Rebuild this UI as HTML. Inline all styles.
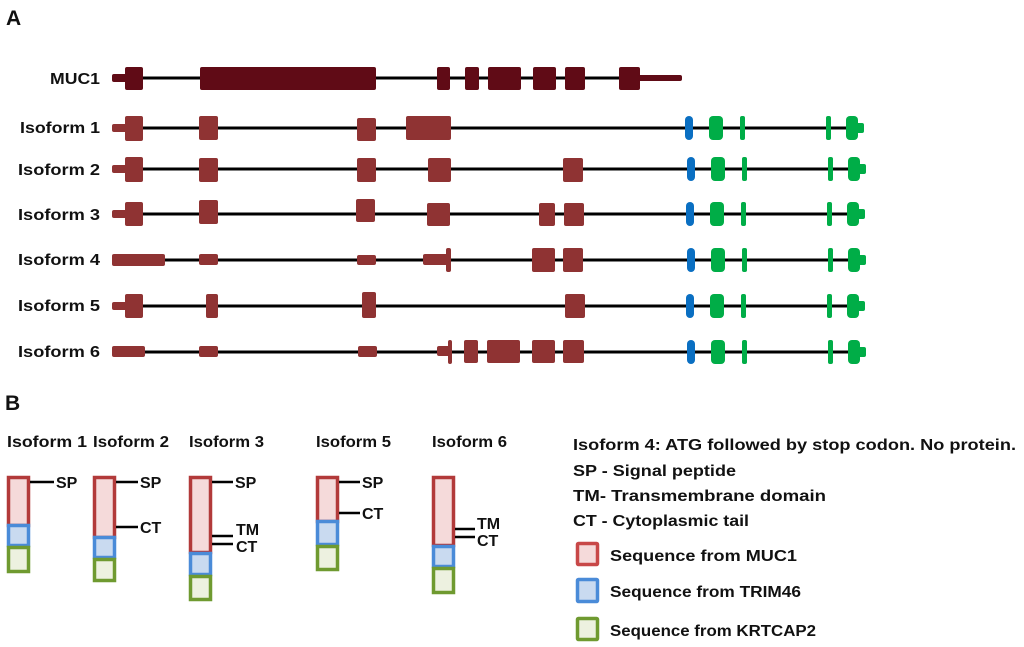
<!DOCTYPE html>
<html><head><meta charset="utf-8"><style>
html,body{margin:0;padding:0;background:#fff;}
svg{display:block;}
text{font-family:"Liberation Sans",sans-serif;font-weight:bold;fill:#111;}
</style></head><body>
<svg width="1024" height="647" viewBox="0 0 1024 647" xmlns="http://www.w3.org/2000/svg">
<text x="6" y="25" font-size="21">A</text>
<text x="5" y="410" font-size="21">B</text>

<g font-size="16" text-anchor="end">
<text x="100" y="84" textLength="50" lengthAdjust="spacingAndGlyphs">MUC1</text>
<text x="100" y="133" textLength="80" lengthAdjust="spacingAndGlyphs">Isoform 1</text>
<text x="100" y="175" textLength="82" lengthAdjust="spacingAndGlyphs">Isoform 2</text>
<text x="100" y="220" textLength="82" lengthAdjust="spacingAndGlyphs">Isoform 3</text>
<text x="100" y="265" textLength="82" lengthAdjust="spacingAndGlyphs">Isoform 4</text>
<text x="100" y="311" textLength="82" lengthAdjust="spacingAndGlyphs">Isoform 5</text>
<text x="100" y="357" textLength="82" lengthAdjust="spacingAndGlyphs">Isoform 6</text>
</g>

<!-- MUC1 -->
<g fill="#600b16">
<line x1="120" y1="78" x2="640" y2="78" stroke="#000" stroke-width="3"/>
<rect x="112" y="74" width="16" height="8" rx="2"/>
<rect x="125" y="67" width="18" height="23" rx="2"/>
<rect x="200" y="67" width="176" height="23" rx="2"/>
<rect x="437" y="67" width="13" height="23" rx="2"/>
<rect x="465" y="67" width="14" height="23" rx="2"/>
<rect x="488" y="67" width="33" height="23" rx="2"/>
<rect x="533" y="67" width="23" height="23" rx="2"/>
<rect x="565" y="67" width="20" height="23" rx="2"/>
<rect x="619" y="67" width="21" height="23" rx="2"/>
<rect x="638" y="75" width="44" height="6" rx="2"/>
</g>

<g stroke="#000" stroke-width="3">
<line x1="120" y1="128" x2="850" y2="128"/>
<line x1="120" y1="169" x2="850" y2="169"/>
<line x1="120" y1="214" x2="850" y2="214"/>
<line x1="120" y1="260" x2="850" y2="260"/>
<line x1="120" y1="306" x2="850" y2="306"/>
<line x1="120" y1="352" x2="850" y2="352"/>
</g>

<g fill="#8f3333">
<!-- Iso1 -->
<rect x="112" y="124" width="16" height="8" rx="2"/>
<rect x="125" y="116" width="18" height="25" rx="2"/>
<rect x="199" y="116" width="19" height="24" rx="2"/>
<rect x="357" y="118" width="19" height="23" rx="2"/>
<rect x="406" y="116" width="45" height="24" rx="2"/>
<!-- Iso2 -->
<rect x="112" y="165" width="16" height="8" rx="2"/>
<rect x="125" y="157" width="18" height="25" rx="2"/>
<rect x="199" y="158" width="19" height="24" rx="2"/>
<rect x="357" y="158" width="19" height="24" rx="2"/>
<rect x="428" y="158" width="23" height="24" rx="2"/>
<rect x="563" y="158" width="20" height="24" rx="2"/>
<!-- Iso3 -->
<rect x="112" y="210" width="16" height="8" rx="2"/>
<rect x="125" y="202" width="18" height="24" rx="2"/>
<rect x="199" y="200" width="19" height="24" rx="2"/>
<rect x="356" y="199" width="19" height="23" rx="2"/>
<rect x="427" y="203" width="23" height="23" rx="2"/>
<rect x="539" y="203" width="16" height="23" rx="2"/>
<rect x="564" y="203" width="20" height="23" rx="2"/>
<!-- Iso4 -->
<rect x="112" y="254" width="53" height="12" rx="2"/>
<rect x="199" y="254" width="19" height="11" rx="2"/>
<rect x="357" y="255" width="19" height="10" rx="2"/>
<rect x="423" y="254" width="25" height="11" rx="2"/>
<rect x="446" y="248" width="5" height="24" rx="2"/>
<rect x="532" y="248" width="23" height="24" rx="2"/>
<rect x="563" y="248" width="20" height="24" rx="2"/>
<!-- Iso5 -->
<rect x="112" y="302" width="16" height="8" rx="2"/>
<rect x="125" y="294" width="18" height="24" rx="2"/>
<rect x="206" y="294" width="12" height="24" rx="2"/>
<rect x="362" y="292" width="14" height="26" rx="2"/>
<rect x="565" y="294" width="20" height="24" rx="2"/>
<!-- Iso6 -->
<rect x="112" y="346" width="33" height="11" rx="2"/>
<rect x="199" y="346" width="19" height="11" rx="2"/>
<rect x="358" y="346" width="19" height="11" rx="2"/>
<rect x="437" y="346" width="13" height="10" rx="2"/>
<rect x="448" y="340" width="4" height="24" rx="2"/>
<rect x="464" y="340" width="14" height="23" rx="2"/>
<rect x="487" y="340" width="33" height="23" rx="2"/>
<rect x="532" y="340" width="23" height="23" rx="2"/>
<rect x="563" y="340" width="21" height="23" rx="2"/>
</g>

<!-- TRIM46 / KRTCAP2 parts -->
<g id="tail">
<rect x="685" y="116" width="8" height="24" rx="4" fill="#0a6fc2"/>
<g fill="#00ad47">
<rect x="709" y="116" width="14" height="24" rx="4"/>
<rect x="740" y="116" width="5" height="24" rx="2"/>
<rect x="826" y="116" width="5" height="24" rx="2"/>
<rect x="846" y="116" width="12" height="24" rx="4"/>
<rect x="855" y="123" width="9" height="10" rx="2"/>
</g>
</g>
<use href="#tail" x="2" y="41"/>
<use href="#tail" x="1" y="86"/>
<use href="#tail" x="2" y="132"/>
<use href="#tail" x="1" y="178"/>
<use href="#tail" x="2" y="224"/>

<!-- Part B -->
<g font-size="16">
<text x="7" y="447" textLength="80" lengthAdjust="spacingAndGlyphs">Isoform 1</text>
<text x="93" y="447" textLength="76" lengthAdjust="spacingAndGlyphs">Isoform 2</text>
<text x="189" y="447" textLength="75" lengthAdjust="spacingAndGlyphs">Isoform 3</text>
<text x="316" y="447" textLength="75" lengthAdjust="spacingAndGlyphs">Isoform 5</text>
<text x="432" y="447" textLength="75" lengthAdjust="spacingAndGlyphs">Isoform 6</text>
</g>

<g stroke-width="3.5">
<!-- Iso1 -->
<rect x="8.5" y="477.5" width="20" height="48" fill="#f5dada" stroke="#b23a3a"/>
<rect x="8.5" y="525.5" width="20" height="20" fill="#c9daf0" stroke="#4a8bd8"/>
<rect x="8.5" y="547.5" width="20" height="24" fill="#edf1e0" stroke="#6f9a30"/>
<!-- Iso2 -->
<rect x="94.5" y="477.5" width="20" height="60" fill="#f5dada" stroke="#b23a3a"/>
<rect x="94.5" y="537.5" width="20" height="20" fill="#c9daf0" stroke="#4a8bd8"/>
<rect x="94.5" y="559.5" width="20" height="21" fill="#edf1e0" stroke="#6f9a30"/>
<!-- Iso3 -->
<rect x="190.5" y="477.5" width="20" height="75" fill="#f5dada" stroke="#b23a3a"/>
<rect x="190.5" y="553.5" width="20" height="21" fill="#c9daf0" stroke="#4a8bd8"/>
<rect x="190.5" y="576.5" width="20" height="23" fill="#edf1e0" stroke="#6f9a30"/>
<!-- Iso5 -->
<rect x="317.5" y="477.5" width="20" height="44" fill="#f5dada" stroke="#b23a3a"/>
<rect x="317.5" y="521.5" width="20" height="23" fill="#c9daf0" stroke="#4a8bd8"/>
<rect x="317.5" y="546.5" width="20" height="23" fill="#edf1e0" stroke="#6f9a30"/>
<!-- Iso6 -->
<rect x="433.5" y="477.5" width="20" height="68" fill="#f5dada" stroke="#b23a3a"/>
<rect x="433.5" y="546.5" width="20" height="20" fill="#c9daf0" stroke="#4a8bd8"/>
<rect x="433.5" y="568.5" width="20" height="24" fill="#edf1e0" stroke="#6f9a30"/>
</g>

<g stroke="#000" stroke-width="2.5">
<line x1="30" y1="482" x2="54" y2="482"/>
<line x1="116" y1="482" x2="138" y2="482"/>
<line x1="116" y1="527" x2="138" y2="527"/>
<line x1="212" y1="482" x2="233" y2="482"/>
<line x1="212" y1="536" x2="233" y2="536"/>
<line x1="212" y1="544" x2="233" y2="544"/>
<line x1="339" y1="482" x2="360" y2="482"/>
<line x1="339" y1="513" x2="360" y2="513"/>
<line x1="455" y1="529" x2="475" y2="529"/>
<line x1="455" y1="537" x2="475" y2="537"/>
</g>
<g font-size="16">
<text x="56" y="488">SP</text>
<text x="140" y="488">SP</text>
<text x="140" y="533">CT</text>
<text x="235" y="488">SP</text>
<text x="236" y="535">TM</text>
<text x="236" y="552">CT</text>
<text x="362" y="488">SP</text>
<text x="362" y="519">CT</text>
<text x="477" y="529">TM</text>
<text x="477" y="546">CT</text>
</g>

<!-- Legend -->
<g font-size="16">
<text x="573" y="450" textLength="443" lengthAdjust="spacingAndGlyphs">Isoform 4: ATG followed by stop codon. No protein.</text>
<text x="573" y="476" textLength="163" lengthAdjust="spacingAndGlyphs">SP - Signal peptide</text>
<text x="573" y="501" textLength="253" lengthAdjust="spacingAndGlyphs">TM- Transmembrane domain</text>
<text x="573" y="526" textLength="176" lengthAdjust="spacingAndGlyphs">CT - Cytoplasmic tail</text>
<text x="610" y="561" textLength="187" lengthAdjust="spacingAndGlyphs">Sequence from MUC1</text>
<text x="610" y="597" textLength="191" lengthAdjust="spacingAndGlyphs">Sequence from TRIM46</text>
<text x="610" y="636" textLength="206" lengthAdjust="spacingAndGlyphs">Sequence from KRTCAP2</text>
</g>
<g stroke-width="3.5">
<rect x="577.5" y="543.5" width="20" height="21" rx="1" fill="#f5dada" stroke="#c84848"/>
<rect x="577.5" y="579.5" width="20" height="22" rx="1" fill="#c9daf0" stroke="#4a8bd8"/>
<rect x="577.5" y="618.5" width="20" height="21" rx="1" fill="#edf1e0" stroke="#6f9a30"/>
</g>
</svg>
</body></html>
